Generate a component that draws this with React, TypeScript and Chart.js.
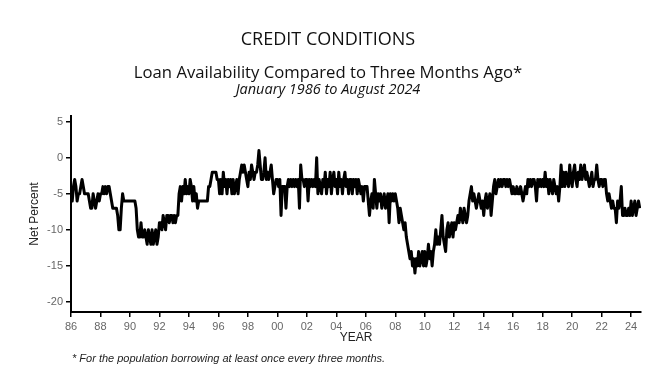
import React, { useEffect, useRef } from "react";
import { Chart, registerables } from "chart.js";

Chart.register(...registerables);

const y1986 = [-5, -6, -4, -3, -4, -6, -5, -5, -4, -3, -4, -5];
const y1987 = [-5, -5, -5, -6, -7, -7, -5, -6, -7, -6, -5, -6];
const y1988 = [-5, -5, -4, -5, -4, -5, -4, -4, -5, -6, -7, -7];
const y1989 = [-7, -7, -8, -10, -10, -7, -5, -6, -6, -6, -6, -6];
const y1990 = [-6, -6, -6, -6, -6, -7, -10, -11, -11, -9, -11, -11];
const y1991 = [-10, -11, -12, -10, -11, -12, -10, -12, -11, -10, -12, -11];
const y1992 = [-9, -9, -10, -8, -9, -10, -8, -8, -9, -8, -8, -9];
const y1993 = [-8, -9, -8, -8, -5, -4, -6, -4, -5, -3, -5, -4];
const y1994 = [-5, -3, -4, -6, -4, -6, -5, -7, -6, -6, -6, -6];
const y1995 = [-6, -6, -6, -6, -4, -4, -3, -2, -2, -2, -2, -3];
const y1996 = [-3, -5, -3, -5, -2, -4, -3, -5, -3, -4, -3, -5];
const y1997 = [-3, -5, -4, -3, -5, -3, -2, -1, -2, -1, -2, -3];
const y1998 = [-4, -2, -3, -1, -2, -3, -2, -2, -1, 1, -1, -3];
const y1999 = [-3, -2, 0, -3, -2, -3, -2, -1, -3, -5, -4, -3];
const y2000 = [-3, -4, -3, -8, -4, -4, -4, -7, -4, -3, -4, -3];
const y2001 = [-4, -3, -4, -3, -4, -3, -7, -1, -3, -3, -4, -3];
const y2002 = [-3, -6, -3, -4, -3, -4, -3, -4, 0, -5, -3, -4];
const y2003 = [-5, -3, -4, -2, -5, -3, -4, -2, -5, -3, -2, -4];
const y2004 = [-3, -5, -2, -4, -3, -5, -3, -2, -4, -3, -5, -3];
const y2005 = [-3, -5, -3, -4, -3, -5, -3, -4, -5, -4, -6, -4];
const y2006 = [-4, -4, -6, -8, -6, -5, -7, -3, -5, -7, -5, -6];
const y2007 = [-5, -7, -6, -5, -7, -6, -5, -9, -5, -6, -5, -6];
const y2008 = [-5, -6, -7, -9, -7, -8, -9, -10, -9, -11, -12, -13];
const y2009 = [-14, -13, -15, -14, -16, -14, -15, -13, -15, -14, -13, -15];
const y2010 = [-13, -15, -14, -12, -14, -13, -15, -13, -12, -10, -12, -11];
const y2011 = [-12, -10, -8, -11, -12, -13, -10, -9, -11, -10, -9, -11];
const y2012 = [-9, -10, -9, -8, -9, -7, -8, -9, -7, -8, -9, -8];
const y2013 = [-6, -5, -4, -6, -5, -6, -7, -6, -5, -6, -7, -6];
const y2014 = [-8, -6, -5, -7, -6, -5, -8, -6, -4, -3, -5, -4];
const y2015 = [-3, -4, -3, -4, -3, -3, -4, -3, -4, -3, -4, -5];
const y2016 = [-4, -5, -5, -4, -5, -5, -4, -5, -6, -5, -4, -5];
const y2017 = [-3, -4, -3, -4, -3, -3, -4, -6, -3, -4, -3, -4];
const y2018 = [-3, -4, -2, -4, -3, -5, -3, -4, -5, -3, -4, -5];
const y2019 = [-4, -6, -4, -1, -4, -2, -4, -2, -3, -4, -1, -3];
const y2020 = [-4, -2, -1, -3, -4, -2, -3, -1, -3, -2, -1, -3];
const y2021 = [-2, -3, -4, -3, -2, -4, -3, -3, -1, -3, -4, -3];
const y2022 = [-3, -4, -3, -3, -5, -6, -5, -6, -7, -6, -7, -7];
const y2023 = [-9, -6, -7, -6, -4, -8, -8, -7, -8, -8, -7, -8];
const y2024 = [-6, -8, -7, -6, -8, -7, -6, -7];

const monthlyValues = [
  ...y1986, ...y1987, ...y1988, ...y1989, ...y1990, ...y1991, ...y1992, ...y1993,
  ...y1994, ...y1995, ...y1996, ...y1997, ...y1998, ...y1999, ...y2000, ...y2001,
  ...y2002, ...y2003, ...y2004, ...y2005, ...y2006, ...y2007, ...y2008, ...y2009,
  ...y2010, ...y2011, ...y2012, ...y2013, ...y2014, ...y2015, ...y2016, ...y2017,
  ...y2018, ...y2019, ...y2020, ...y2021, ...y2022, ...y2023, ...y2024,
];

const startYear = 1986;
const yTicks = [5, 0, -5, -10, -15, -20];

const title = "CREDIT CONDITIONS";
const subtitle = "Loan Availability Compared to Three Months Ago*";
const dateRange = "January 1986 to August 2024";
const yTitle = "Net Percent";
const xTitle = "YEAR";
const footnote = "* For the population borrowing at least once every three months.";

const textPlugin = {
  id: "textPlugin",
  afterDraw(chart: any) {
    const ctx = chart.ctx;
    const cx = 328;
    ctx.save();
    ctx.fillStyle = "#111";
    ctx.textAlign = "center";
    ctx.textBaseline = "middle";
    ctx.font = '18px "Open Sans"';
    ctx.fillText(title, cx, 40);
    ctx.font = '16.7px "Open Sans"';
    ctx.fillText(subtitle, cx, 73);
    ctx.font = 'italic 14.5px "Open Sans"';
    ctx.fillText(dateRange, cx, 90);

    ctx.fillStyle = "#222";
    ctx.font = '12px "Liberation Sans"';
    ctx.fillText(xTitle, (chart.chartArea.left + chart.chartArea.right) / 2, 338);

    ctx.save();
    ctx.translate(35, (chart.chartArea.top + chart.chartArea.bottom) / 2);
    ctx.rotate(-Math.PI / 2);
    ctx.fillText(yTitle, 0, 0);
    ctx.restore();

    ctx.textAlign = "left";
    ctx.font = 'italic 11px "Liberation Sans"';
    ctx.fillText(footnote, 72, 359);
    ctx.restore();
  },
};

export default function App() {
  const ref = useRef<HTMLCanvasElement | null>(null);

  useEffect(() => {
    if (!ref.current) return;
    const data = monthlyValues.map((v, i) => ({ x: startYear + i / 12, y: v }));
    const chart = new Chart(ref.current, {
      type: "line",
      data: {
        datasets: [
          {
            data,
            borderColor: "#000",
            borderWidth: 3,
            borderJoinStyle: "round",
            pointRadius: 0,
            tension: 0,
            fill: false,
          },
        ],
      },
      options: {
        animation: false,
        responsive: false,
        maintainAspectRatio: false,
        layout: { padding: { left: 0, top: 116, right: 28, bottom: 35 } },
        plugins: {
          legend: { display: false },
          tooltip: { enabled: false },
        },
        scales: {
          x: {
            type: "linear",
            min: 1986,
            max: 2024.67,
            afterFit: (s: any) => {
              s.height = 30;
            },
            afterBuildTicks: (s: any) => {
              const t = [];
              for (let y = 1986; y <= 2024; y += 2) t.push({ value: y });
              s.ticks = t;
            },
            ticks: {
              color: "#666",
              font: { family: "Liberation Sans", size: 11 },
              padding: 3,
              maxRotation: 0,
              autoSkip: false,
              callback: (v: any) => String(Number(v) % 100).padStart(2, "0"),
            },
            grid: {
              drawOnChartArea: false,
              drawTicks: true,
              tickLength: 5,
              color: "#000",
              lineWidth: 1.5,
            },
            border: { display: true, color: "#000", width: 2 },
          },
          y: {
            min: -21.4,
            max: 5.8,
            afterFit: (s: any) => {
              s.width = 71;
            },
            afterBuildTicks: (s: any) => {
              s.ticks = yTicks.map((v) => ({ value: v }));
            },
            ticks: {
              color: "#666",
              font: { family: "Liberation Sans", size: 11 },
              padding: 3,
              autoSkip: false,
            },
            grid: {
              drawOnChartArea: false,
              drawTicks: true,
              tickLength: 5,
              color: "#000",
              lineWidth: 1.5,
            },
            border: { display: true, color: "#000", width: 2 },
          },
        },
      },
      plugins: [textPlugin],
    });
    return () => chart.destroy();
  }, []);

  return (
    <div style={{ position: "fixed", left: 0, top: 0, width: 669, height: 377, background: "#fff" }}>
      <canvas ref={ref} width={669} height={377} style={{ display: "block" }} />
    </div>
  );
}
